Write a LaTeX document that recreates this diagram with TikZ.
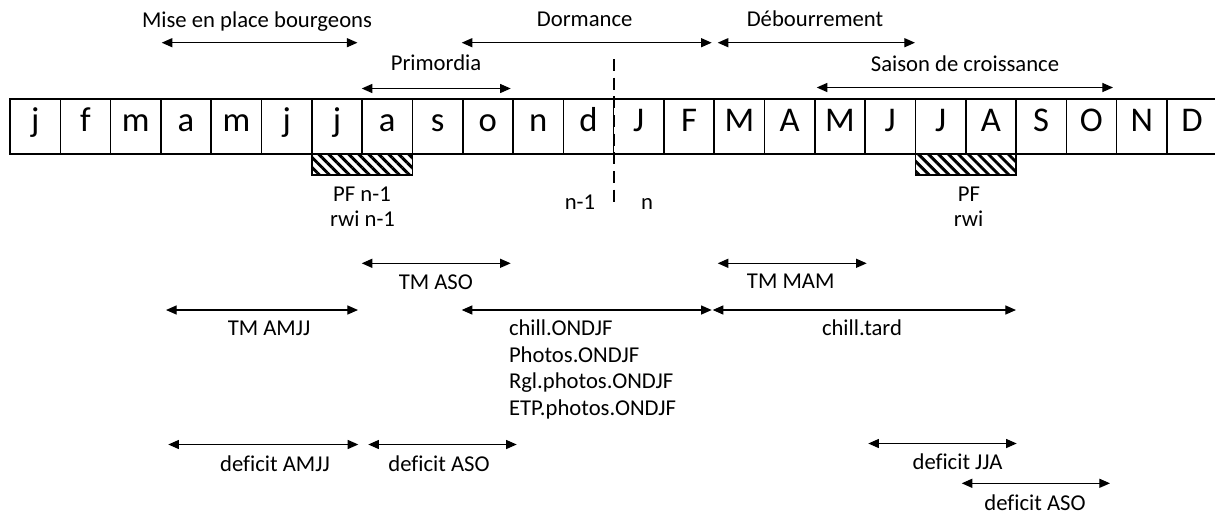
\documentclass[tikz,border=0pt]{standalone}
\usepackage{fontspec}
\setmainfont{Carlito}[Ligatures=CommonOff]
\usetikzlibrary{arrows.meta,patterns.meta}
\begin{document}
\begin{tikzpicture}[x=0.75pt,y=-0.75pt,
  lab/.style={font=\fontsize{17}{20}\selectfont, inner sep=0pt, outer sep=0pt, text height=0.64em, text depth=0pt},
  cell/.style={draw, line width=1.2pt, inner sep=0pt, outer sep=0pt, minimum width=37.725pt, minimum height=41.25pt,
    font=\fontsize{26}{30}\selectfont, text height=0.66em, text depth=0pt},
  span/.style={{Triangle[length=8pt,width=6.8pt]}-{Triangle[length=8pt,width=6.8pt]}, line width=0.9pt},
  hatch/.style={draw, line width=1.2pt, pattern={Lines[angle=-45,distance=5.3pt,line width=2.2pt]}},
  split/.style={line width=2pt, dash pattern=on 9pt off 5pt},
]
\useasboundingbox (0,0) rectangle (1215,515);

% month row
\foreach \m [count=\i from 0] in {j,f,m,a,m,j,j,a,s,o,n,d,J,F,M,A,M,J,J,A,S,O,N,D}{
  \node[cell] (c\i) at ({10+50.3*\i+25.15},126.7) {\m};
}

% hatched PF boxes
\node[hatch, minimum width=75.45pt, minimum height=15.75pt, inner sep=0pt, outer sep=0pt, anchor=north west] (pf1) at (c6.south west) {};
\node[hatch, minimum width=75.45pt, minimum height=15.75pt, inner sep=0pt, outer sep=0pt, anchor=north west] (pf2) at (c18.south west) {};

% dashed split
\coordinate (d1) at (614,59);
\coordinate (d2) at (614,203);
\draw[split] (d1) -- (d2);

% top spans
\coordinate (a1l) at (161.7,42.7); \coordinate (a1r) at (357.5,42.7);
\coordinate (a2l) at (461.7,42.7); \coordinate (a2r) at (711.7,42.7);
\coordinate (a3l) at (717.7,42.7); \coordinate (a3r) at (915,42.7);
\coordinate (a4l) at (361.7,88.5); \coordinate (a4r) at (510.7,88.5);
\coordinate (a5l) at (816.7,87.5); \coordinate (a5r) at (1113,87.5);
\draw[span] (a1l) -- (a1r);
\draw[span] (a2l) -- (a2r);
\draw[span] (a3l) -- (a3r);
\draw[span] (a4l) -- (a4r);
\draw[span] (a5l) -- (a5r);
\node[lab] (t1) at (257,23) {Mise en place bourgeons};
\node[lab] (t2) at (584.7,22) {Dormance};
\node[lab] (t3) at (815,22) {Débourrement};
\node[lab] (t4) at (436,66) {Primordia};
\node[lab] (t5) at (965,67) {Saison de croissance};

% under-row labels
\node[lab] (pfa) at (362,197) {PF n-1};
\node[lab] (rwa) at (362.5,222) {rwi n-1};
\node[lab] (nm1) at (580,205) {n-1};
\node[lab] (nn) at (647,205) {n};
\node[lab] (pfb) at (969,197) {PF};
\node[lab] (rwb) at (968.5,222) {rwi};

% TM spans
\coordinate (b1l) at (361.7,263.3); \coordinate (b1r) at (510.7,263.3);
\coordinate (b2l) at (717.7,263.3); \coordinate (b2r) at (866.7,263.3);
\coordinate (b3l) at (166,310); \coordinate (b3r) at (358,310);
\coordinate (b4l) at (461.7,310); \coordinate (b4r) at (711.7,310);
\coordinate (b5l) at (712.7,310); \coordinate (b5r) at (1016,310);
\draw[span] (b1l) -- (b1r);
\draw[span] (b2l) -- (b2r);
\draw[span] (b3l) -- (b3r);
\draw[span] (b4l) -- (b4r);
\draw[span] (b5l) -- (b5r);
\node[lab] (tmaso) at (435.8,285) {TM ASO};
\node[lab] (tmmam) at (790.7,284) {TM MAM};
\node[lab] (tmamjj) at (269,331.7) {TM AMJJ};
\node[lab, anchor=west] (ch1) at (509,331.7) {chill.ONDJF};
\node[lab, anchor=west] (ch2) at (509,358.2) {Photos.ONDJF};
\node[lab, anchor=west] (ch3) at (509,384.7) {Rgl.photos.ONDJF};
\node[lab, anchor=west] (ch4) at (509,411.2) {ETP.photos.ONDJF};
\node[lab] (chtard) at (862,331.7) {chill.tard};

% deficit spans
\coordinate (e1l) at (168.3,444.5); \coordinate (e1r) at (358.3,444.5);
\coordinate (e2l) at (368.3,444.5); \coordinate (e2r) at (516.7,444.5);
\coordinate (e3l) at (868.3,443.5); \coordinate (e3r) at (1016.7,443.5);
\coordinate (e4l) at (961.7,483.3); \coordinate (e4r) at (1110,483.3);
\draw[span] (e1l) -- (e1r);
\draw[span] (e2l) -- (e2r);
\draw[span] (e3l) -- (e3r);
\draw[span] (e4l) -- (e4r);
\node[lab] (df1) at (275,467) {deficit AMJJ};
\node[lab] (df2) at (439,467) {deficit ASO};
\node[lab] (df3) at (957.5,465) {deficit JJA};
\node[lab] (df4) at (1035,506) {deficit ASO};
\end{tikzpicture}
\end{document}
